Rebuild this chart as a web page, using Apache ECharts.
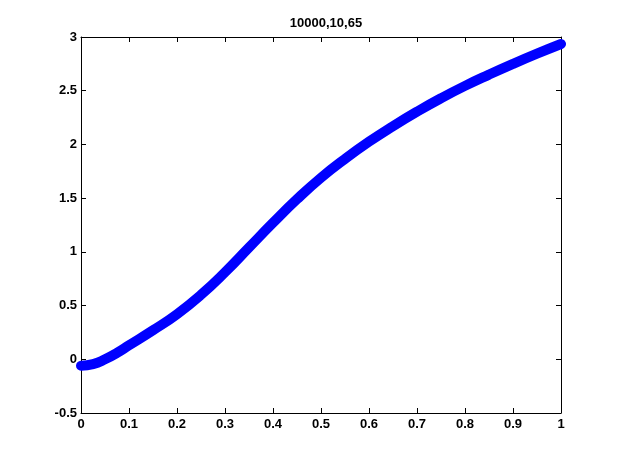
<!DOCTYPE html>
<html>
<head>
<meta charset="utf-8">
<script src="https://cdn.jsdelivr.net/npm/echarts@6/dist/echarts.min.js"></script>
<style>
html,body{margin:0;padding:0;background:#fff;}
#main{width:622px;height:467px;}
</style>
</head>
<body>
<div id="main"></div>
<script>
// values
var xData = [0, 0.025, 0.05, 0.075, 0.1, 0.15, 0.2, 0.25, 0.3, 0.35, 0.4, 0.45, 0.5, 0.55, 0.6, 0.65, 0.7, 0.75, 0.8, 0.85, 0.9, 0.95, 1];
var yData = [-0.06, -0.045, 0.0, 0.06, 0.13, 0.27, 0.42, 0.6, 0.81, 1.04, 1.27, 1.49, 1.69, 1.865, 2.025, 2.17, 2.305, 2.43, 2.545, 2.65, 2.75, 2.845, 2.935];
var titleText = '10000,10,65';

var points = xData.map(function (x, i) { return [x, yData[i]]; });

var fontName = 'Liberation Sans, Arial, Helvetica, sans-serif';
var labelStyle = {color: '#000', fontSize: 13, fontWeight: 'bold', fontFamily: fontName};

// matlab style box: ticks inside on all four sides
var boxAxis = function (extra) {
	return Object.assign({
		type: 'value',
		axisLine: {show: true, onZero: false, lineStyle: {color: '#000'}},
		axisTick: {show: true, inside: true, length: 5, lineStyle: {color: '#000'}},
		splitLine: {show: false},
		axisLabel: {show: false}
	}, extra);
};

var chart = echarts.init(document.getElementById('main'));
chart.setOption({
	animation: false,
	backgroundColor: '#fff',
	title: {
		text: titleText,
		left: 321,
		top: 12,
		textAlign: 'center',
		textStyle: {color: '#000', fontSize: 13, fontWeight: 'bold', fontFamily: fontName}
	},
	grid: {left: 81, right: 61, top: 37, bottom: 54},
	xAxis: [
		boxAxis({min: 0, max: 1, interval: 0.1, position: 'bottom',
			axisLabel: Object.assign({show: true, margin: 5, formatter: function (v) { return +v.toFixed(1) + ''; }}, labelStyle)}),
		boxAxis({min: 0, max: 1, interval: 0.1, position: 'top'})
	],
	yAxis: [
		boxAxis({min: -0.5, max: 3, interval: 0.5, position: 'left',
			axisLabel: Object.assign({show: true, margin: 4}, labelStyle)}),
		boxAxis({min: -0.5, max: 3, interval: 0.5, position: 'right'})
	],
	series: [
		{
			type: 'line',
			data: points,
			smooth: true,
			symbol: 'none',
			lineStyle: {color: '#0000ff', width: 10, cap: 'round', join: 'round'}
		}
	]
});
</script>
</body>
</html>
